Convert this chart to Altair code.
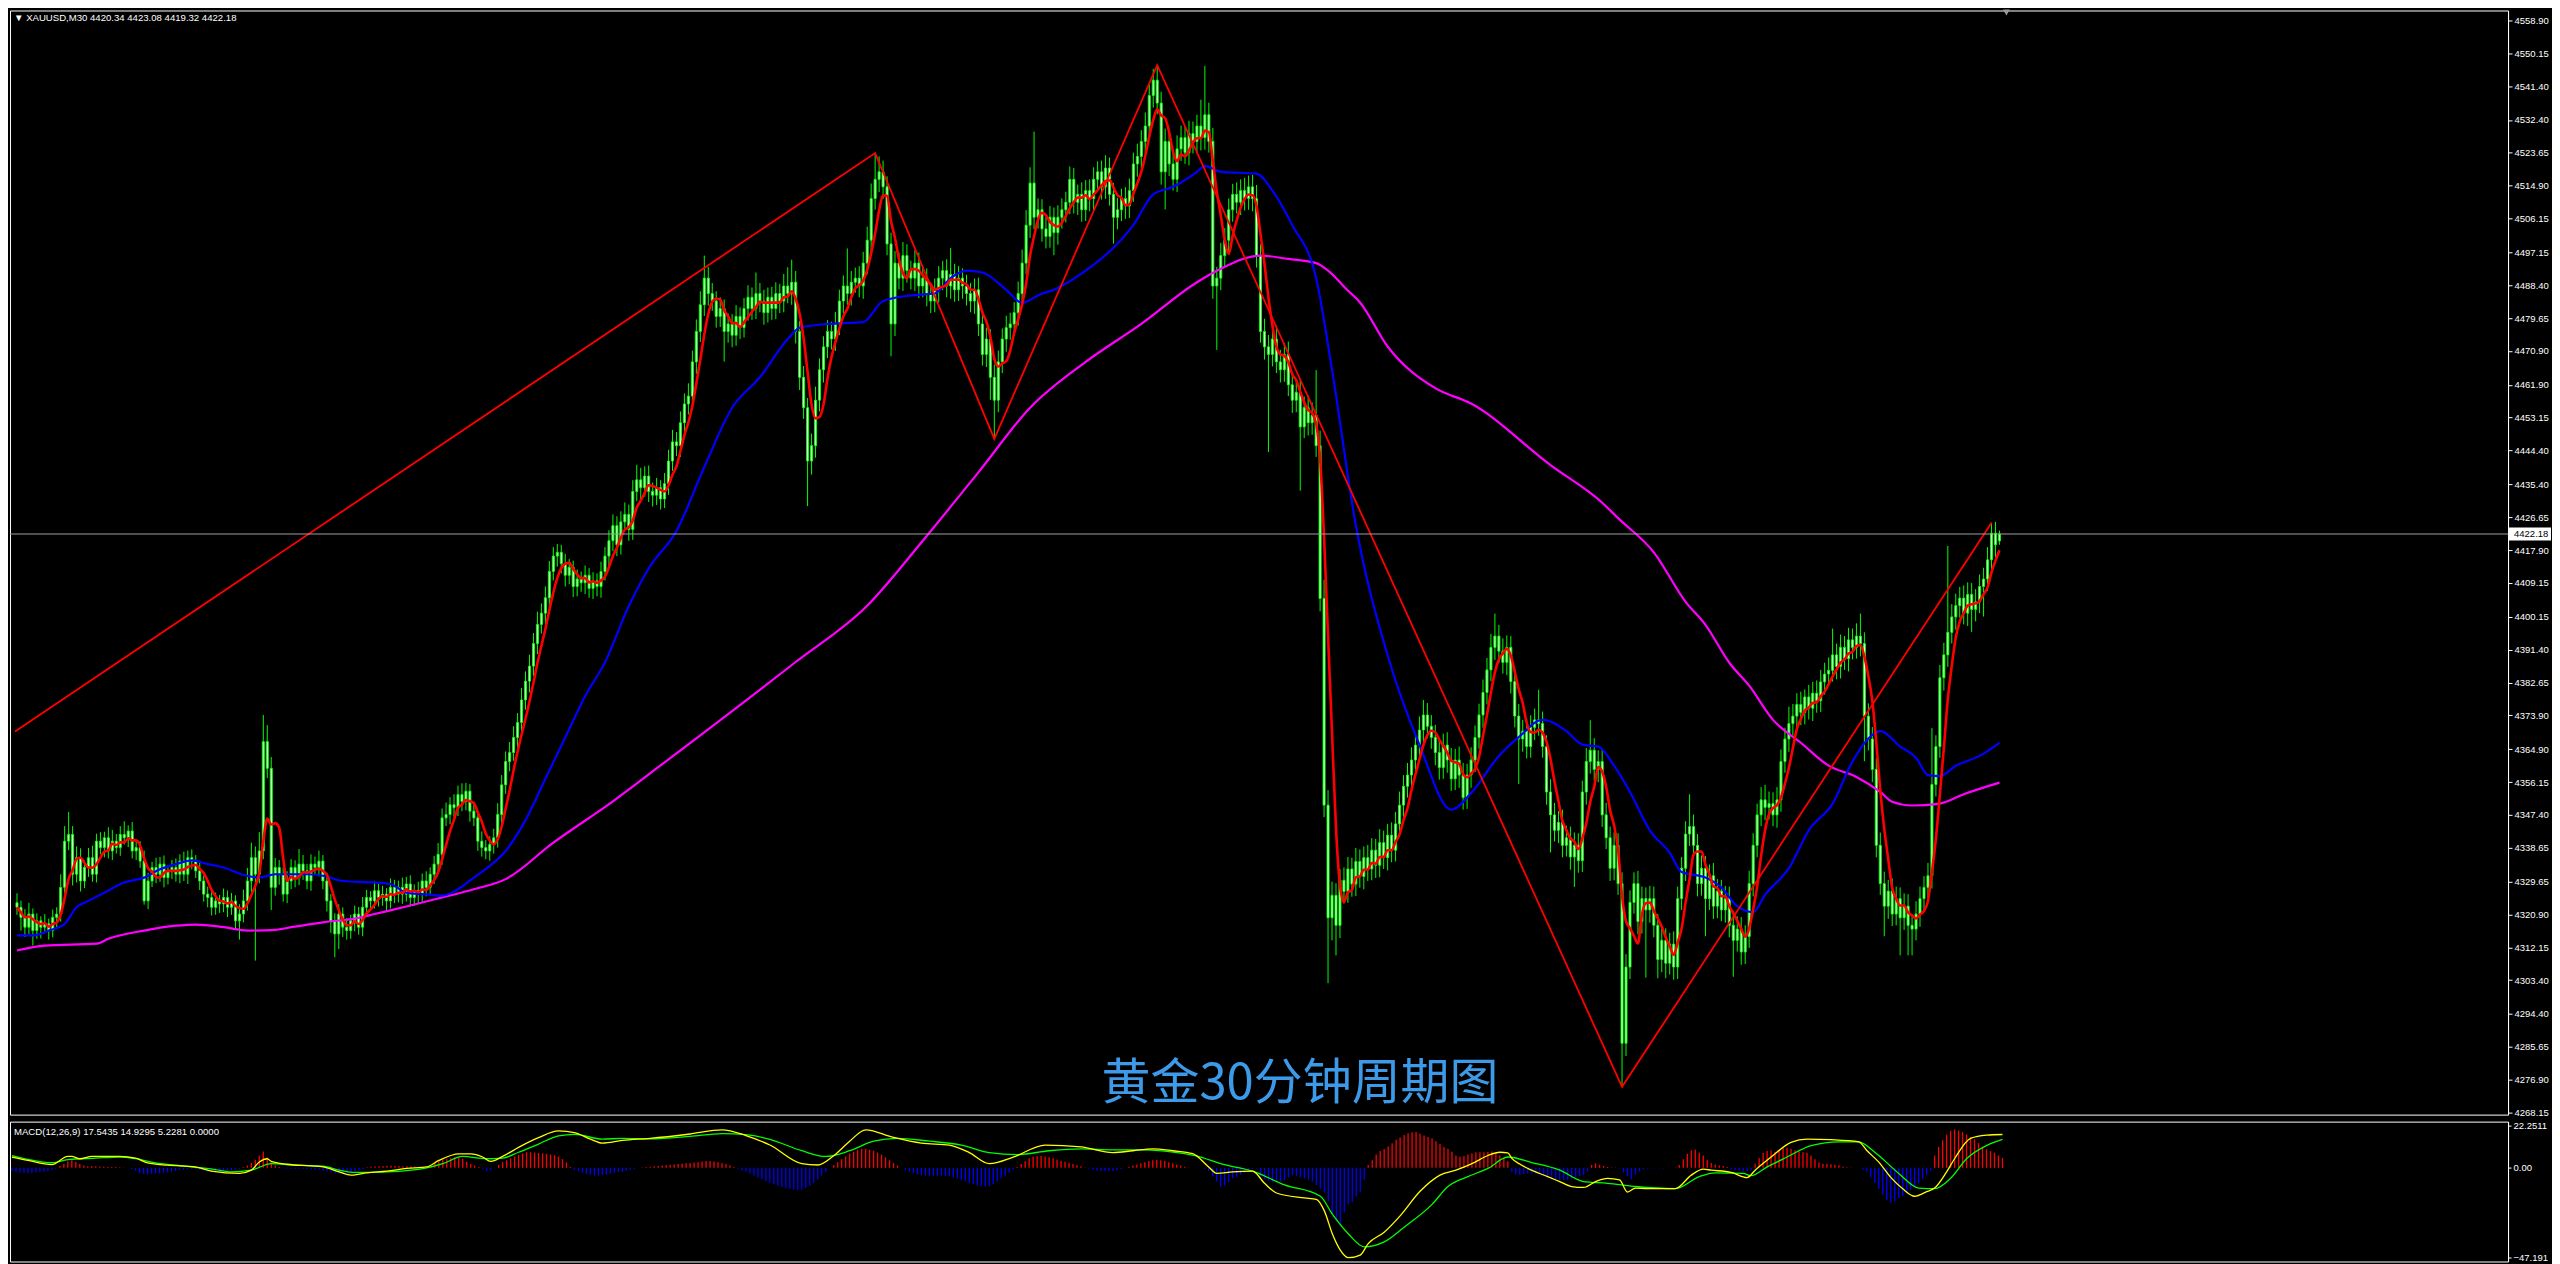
import altair as alt
import pandas as pd

# ---------------- data ----------------
closes = [
 4322.8, 4320.1, 4317.5, 4321.0, 4316.6, 4319.2, 4317.5, 4318.4, 4316.6, 4320.1,
 4321.0, 4328.1, 4340.4, 4342.2, 4331.6, 4336.0, 4329.8, 4333.4, 4336.0, 4331.6,
 4340.4, 4338.7, 4341.3, 4337.8, 4340.4, 4338.7, 4342.2, 4341.3, 4343.1, 4337.8,
 4338.7, 4335.1, 4324.5, 4329.8, 4333.4, 4331.6, 4334.3, 4330.7, 4332.5, 4333.4,
 4331.6, 4335.1, 4331.6, 4336.0, 4335.1, 4332.5, 4329.8, 4326.3, 4325.4, 4322.8,
 4324.5, 4323.7, 4325.4, 4322.8, 4324.5, 4319.2, 4321.0, 4324.5, 4329.8, 4336.0,
 4331.6, 4337.8, 4366.9, 4359.8, 4328.1, 4333.4, 4331.6, 4326.3, 4329.8, 4333.4,
 4330.7, 4334.3, 4332.5, 4329.8, 4334.3, 4333.4, 4335.1, 4329.8, 4324.5, 4319.2,
 4315.7, 4321.0, 4317.5, 4316.6, 4319.2, 4321.0, 4317.5, 4322.8, 4325.4, 4324.5,
 4327.2, 4325.4, 4326.3, 4324.5, 4328.1, 4326.3, 4328.1, 4326.3, 4329.0, 4325.4,
 4327.2, 4326.3, 4329.8, 4328.1, 4331.6, 4334.3, 4336.9, 4346.6, 4347.5, 4350.1,
 4349.3, 4352.8, 4351.0, 4353.7, 4348.4, 4346.6, 4340.4, 4338.7, 4337.8, 4339.5,
 4341.3, 4347.5, 4355.4, 4361.6, 4364.0, 4368.0, 4372.0, 4378.0, 4383.0, 4387.0,
 4393.0, 4398.1, 4401.1, 4405.2, 4412.2, 4416.3, 4417.3, 4414.3, 4411.2, 4413.3,
 4408.2, 4410.2, 4409.2, 4411.2, 4407.7, 4409.7, 4408.2, 4412.2, 4416.3, 4420.4,
 4424.4, 4419.3, 4425.4, 4427.4, 4423.4, 4433.5, 4436.6, 4434.5, 4437.6, 4433.5,
 4432.5, 4434.5, 4431.5, 4435.6, 4441.6, 4446.7, 4445.7, 4451.8, 4456.8, 4458.9,
 4468.0, 4476.1, 4483.2, 4490.3, 4486.2, 4484.2, 4480.1, 4482.2, 4476.1, 4478.1,
 4475.1, 4480.1, 4477.1, 4482.2, 4485.2, 4482.2, 4486.2, 4484.2, 4481.1, 4485.2,
 4482.2, 4486.2, 4484.2, 4488.2, 4486.2, 4489.2, 4476.1, 4463.9, 4455.8, 4441.6,
 4445.7, 4457.8, 4465.9, 4472.0, 4476.1, 4474.1, 4478.1, 4484.2, 4488.2, 4486.2,
 4489.2, 4490.3, 4488.2, 4494.3, 4500.4, 4511.5, 4516.6, 4518.6, 4514.6, 4499.4,
 4478.1, 4494.3, 4490.3, 4496.3, 4492.3, 4490.3, 4494.3, 4488.2, 4490.3, 4486.2,
 4484.2, 4487.2, 4490.3, 4492.3, 4488.2, 4491.3, 4487.2, 4490.3, 4488.2, 4486.2,
 4484.2, 4487.2, 4478.1, 4470.0, 4474.1, 4463.9, 4457.8, 4468.0, 4474.1, 4477.1,
 4478.1, 4481.1, 4486.2, 4494.3, 4504.4, 4515.6, 4506.5, 4508.5, 4503.4, 4501.4,
 4506.5, 4502.4, 4506.5, 4508.5, 4510.5, 4516.6, 4510.5, 4512.6, 4508.5, 4513.6,
 4511.5, 4516.6, 4518.6, 4514.6, 4519.6, 4512.6, 4506.5, 4508.5, 4511.5, 4509.5,
 4513.6, 4520.7, 4522.7, 4526.7, 4530.8, 4538.9, 4543.0, 4536.9, 4518.6, 4526.7,
 4520.7, 4516.6, 4524.7, 4527.7, 4523.7, 4528.8, 4526.7, 4530.8, 4527.7, 4533.8,
 4526.7, 4488.2, 4490.3, 4496.3, 4500.4, 4508.5, 4512.6, 4510.5, 4513.6, 4511.5,
 4514.6, 4511.5, 4496.3, 4476.1, 4472.0, 4470.0, 4474.1, 4468.0, 4465.9, 4470.0,
 4461.9, 4457.8, 4459.9, 4450.7, 4455.8, 4451.8, 4453.8, 4445.7, 4405.0, 4350.0,
 4320.0, 4326.0, 4318.0, 4330.0, 4327.0, 4333.0, 4329.0, 4335.0, 4331.0, 4336.0,
 4333.0, 4338.0, 4334.0, 4340.0, 4336.0, 4342.0, 4338.0, 4345.0, 4350.0, 4355.0,
 4358.0, 4362.0, 4366.0, 4370.0, 4374.0, 4371.0, 4368.0, 4364.0, 4360.0, 4366.0,
 4362.0, 4357.0, 4362.0, 4358.0, 4352.0, 4358.0, 4362.0, 4368.0, 4374.0, 4380.0,
 4386.0, 4392.0, 4395.0, 4391.0, 4388.0, 4392.0, 4382.9, 4373.7, 4367.6, 4369.7,
 4365.6, 4370.7, 4372.7, 4371.7, 4365.6, 4353.5, 4347.4, 4343.3, 4345.4, 4339.3,
 4341.3, 4336.2, 4339.3, 4335.2, 4353.5, 4361.6, 4364.6, 4359.5, 4361.6, 4347.4,
 4341.3, 4333.2, 4339.3, 4329.1, 4286.6, 4306.9, 4324.1, 4329.1, 4319.0, 4325.1,
 4322.1, 4325.1, 4318.0, 4308.9, 4314.0, 4307.9, 4313.0, 4306.9, 4325.1, 4333.2,
 4342.3, 4344.3, 4339.3, 4329.1, 4333.2, 4325.1, 4331.2, 4323.1, 4327.1, 4322.1,
 4325.1, 4318.0, 4314.0, 4317.0, 4310.9, 4315.0, 4329.1, 4339.3, 4347.4, 4351.4,
 4349.4, 4350.4, 4347.4, 4351.4, 4361.6, 4367.6, 4371.7, 4373.7, 4376.8, 4374.7,
 4378.8, 4375.8, 4379.8, 4377.8, 4382.8, 4384.9, 4385.9, 4390.0, 4386.9, 4392.0,
 4389.0, 4394.0, 4392.0, 4395.0, 4393.0, 4373.7, 4367.6, 4359.5, 4339.3, 4329.1,
 4323.1, 4327.1, 4321.0, 4325.1, 4320.0, 4323.1, 4318.0, 4317.0, 4321.0, 4325.1,
 4328.1, 4331.2, 4355.5, 4365.6, 4383.9, 4390.0, 4396.0, 4400.1, 4403.1, 4405.1,
 4401.1, 4406.1, 4402.1, 4404.1, 4408.2, 4410.2, 4415.3, 4422.4, 4419.3, 4422.18]

opens = [
 4324.0, 4322.8, 4320.1, 4317.5, 4321.0, 4316.6, 4319.2, 4317.5, 4318.4, 4316.6,
 4320.1, 4321.0, 4328.1, 4340.4, 4342.2, 4331.6, 4336.0, 4329.8, 4333.4, 4336.0,
 4331.6, 4340.4, 4338.7, 4341.3, 4337.8, 4340.4, 4338.7, 4342.2, 4341.3, 4343.1,
 4337.8, 4338.7, 4335.1, 4324.5, 4329.8, 4333.4, 4331.6, 4334.3, 4330.7, 4332.5,
 4333.4, 4331.6, 4335.1, 4331.6, 4336.0, 4335.1, 4332.5, 4329.8, 4326.3, 4325.4,
 4322.8, 4324.5, 4323.7, 4325.4, 4322.8, 4324.5, 4319.2, 4321.0, 4324.5, 4329.8,
 4336.0, 4331.6, 4337.8, 4366.9, 4359.8, 4328.1, 4333.4, 4331.6, 4326.3, 4329.8,
 4333.4, 4330.7, 4334.3, 4332.5, 4329.8, 4334.3, 4333.4, 4335.1, 4329.8, 4324.5,
 4319.2, 4315.7, 4321.0, 4317.5, 4316.6, 4319.2, 4321.0, 4317.5, 4322.8, 4325.4,
 4324.5, 4327.2, 4325.4, 4326.3, 4324.5, 4328.1, 4326.3, 4328.1, 4326.3, 4329.0,
 4325.4, 4327.2, 4326.3, 4329.8, 4328.1, 4331.6, 4334.3, 4336.9, 4346.6, 4347.5,
 4350.1, 4349.3, 4352.8, 4351.0, 4353.7, 4348.4, 4346.6, 4340.4, 4338.7, 4337.8,
 4339.5, 4341.3, 4347.5, 4355.4, 4361.6, 4364.0, 4368.0, 4372.0, 4378.0, 4383.0,
 4387.0, 4393.0, 4398.1, 4401.1, 4405.2, 4412.2, 4416.3, 4417.3, 4414.3, 4411.2,
 4413.3, 4408.2, 4410.2, 4409.2, 4411.2, 4407.7, 4409.7, 4408.2, 4412.2, 4416.3,
 4420.4, 4424.4, 4419.3, 4425.4, 4427.4, 4423.4, 4433.5, 4436.6, 4434.5, 4437.6,
 4433.5, 4432.5, 4434.5, 4431.5, 4435.6, 4441.6, 4446.7, 4445.7, 4451.8, 4456.8,
 4458.9, 4468.0, 4476.1, 4483.2, 4490.3, 4486.2, 4484.2, 4480.1, 4482.2, 4476.1,
 4478.1, 4475.1, 4480.1, 4477.1, 4482.2, 4485.2, 4482.2, 4486.2, 4484.2, 4481.1,
 4485.2, 4482.2, 4486.2, 4484.2, 4488.2, 4486.2, 4489.2, 4476.1, 4463.9, 4455.8,
 4441.6, 4445.7, 4457.8, 4465.9, 4472.0, 4476.1, 4474.1, 4478.1, 4484.2, 4488.2,
 4486.2, 4489.2, 4490.3, 4488.2, 4494.3, 4500.4, 4511.5, 4516.6, 4518.6, 4514.6,
 4499.4, 4478.1, 4494.3, 4490.3, 4496.3, 4492.3, 4490.3, 4494.3, 4488.2, 4490.3,
 4486.2, 4484.2, 4487.2, 4490.3, 4492.3, 4488.2, 4491.3, 4487.2, 4490.3, 4488.2,
 4486.2, 4484.2, 4487.2, 4478.1, 4470.0, 4474.1, 4463.9, 4457.8, 4468.0, 4474.1,
 4477.1, 4478.1, 4481.1, 4486.2, 4494.3, 4504.4, 4515.6, 4506.5, 4508.5, 4503.4,
 4501.4, 4506.5, 4502.4, 4506.5, 4508.5, 4510.5, 4516.6, 4510.5, 4512.6, 4508.5,
 4513.6, 4511.5, 4516.6, 4518.6, 4514.6, 4519.6, 4512.6, 4506.5, 4508.5, 4511.5,
 4509.5, 4513.6, 4520.7, 4522.7, 4526.7, 4530.8, 4538.9, 4543.0, 4536.9, 4518.6,
 4526.7, 4520.7, 4516.6, 4524.7, 4527.7, 4523.7, 4528.8, 4526.7, 4530.8, 4527.7,
 4533.8, 4526.7, 4488.2, 4490.3, 4496.3, 4500.4, 4508.5, 4512.6, 4510.5, 4513.6,
 4511.5, 4514.6, 4511.5, 4496.3, 4476.1, 4472.0, 4470.0, 4474.1, 4468.0, 4465.9,
 4470.0, 4461.9, 4457.8, 4459.9, 4450.7, 4455.8, 4451.8, 4453.8, 4445.7, 4405.0,
 4350.0, 4320.0, 4326.0, 4318.0, 4330.0, 4327.0, 4333.0, 4329.0, 4335.0, 4331.0,
 4336.0, 4333.0, 4338.0, 4334.0, 4340.0, 4336.0, 4342.0, 4338.0, 4345.0, 4350.0,
 4355.0, 4358.0, 4362.0, 4366.0, 4370.0, 4374.0, 4371.0, 4368.0, 4364.0, 4360.0,
 4366.0, 4362.0, 4357.0, 4362.0, 4358.0, 4352.0, 4358.0, 4362.0, 4368.0, 4374.0,
 4380.0, 4386.0, 4392.0, 4395.0, 4391.0, 4388.0, 4392.0, 4382.9, 4373.7, 4367.6,
 4369.7, 4365.6, 4370.7, 4372.7, 4371.7, 4365.6, 4353.5, 4347.4, 4343.3, 4345.4,
 4339.3, 4341.3, 4336.2, 4339.3, 4335.2, 4353.5, 4361.6, 4364.6, 4359.5, 4361.6,
 4347.4, 4341.3, 4333.2, 4339.3, 4329.1, 4286.6, 4306.9, 4324.1, 4329.1, 4319.0,
 4325.1, 4322.1, 4325.1, 4318.0, 4308.9, 4314.0, 4307.9, 4313.0, 4306.9, 4325.1,
 4333.2, 4342.3, 4344.3, 4339.3, 4329.1, 4333.2, 4325.1, 4331.2, 4323.1, 4327.1,
 4322.1, 4325.1, 4318.0, 4314.0, 4317.0, 4310.9, 4315.0, 4329.1, 4339.3, 4347.4,
 4351.4, 4349.4, 4350.4, 4347.4, 4351.4, 4361.6, 4367.6, 4371.7, 4373.7, 4376.8,
 4374.7, 4378.8, 4375.8, 4379.8, 4377.8, 4382.8, 4384.9, 4385.9, 4390.0, 4386.9,
 4392.0, 4389.0, 4394.0, 4392.0, 4395.0, 4393.0, 4373.7, 4367.6, 4359.5, 4339.3,
 4329.1, 4323.1, 4327.1, 4321.0, 4325.1, 4320.0, 4323.1, 4318.0, 4317.0, 4321.0,
 4325.1, 4328.1, 4331.2, 4355.5, 4365.6, 4383.9, 4390.0, 4396.0, 4400.1, 4403.1,
 4405.1, 4401.1, 4406.1, 4402.1, 4404.1, 4408.2, 4410.2, 4415.3, 4422.4, 4420.34]

# upper / lower shadow lengths beyond the body
wick_up = [
 2.5,1.8,2.2,3.0,1.5,2.0,1.2,2.6,1.4,2.1, 1.8,3.5,4.0,6.0,2.2,3.0,2.5,1.8,2.6,3.2,
 2.0,2.4,1.6,2.8,3.0,1.9,2.2,3.5,1.5,2.4, 2.0,1.7,2.8,2.2,1.5,2.6,1.9,2.3,1.6,2.0,
 2.4,1.8,2.5,1.9,2.2,1.6,2.7,1.5,2.0,1.8, 2.2,1.6,2.4,1.9,2.1,1.5,2.6,3.0,3.5,4.0,
 3.0,5.0,7.1,4.4,3.0,2.5,2.0,1.8,2.6,2.2, 1.9,4.0,2.4,1.8,2.6,2.0,2.8,1.6,2.2,1.8,
 2.0,2.6,1.8,2.4,1.6,2.2,1.9,2.7,2.0,1.7, 2.5,1.8,2.2,1.6,2.4,2.0,1.8,2.6,1.9,2.3,
 1.7,2.4,2.0,2.6,1.8,2.2,3.0,2.5,3.2,2.0, 2.8,2.4,3.0,2.2,1.9,2.5,1.8,2.6,2.0,2.2,
 2.4,3.0,2.6,2.7,2.8,3.0,2.5,3.2,2.6,3.0, 2.8,3.4,2.6,3.0,2.8,2.4,2.2,2.0,2.6,2.2,
 1.8,2.5,2.0,2.6,1.9,2.3,2.0,2.6,2.4,2.8, 3.0,2.5,2.8,3.2,2.6,3.0,4.0,3.2,2.6,2.8,
 2.4,2.6,2.0,2.8,3.0,3.2,2.6,3.0,2.8,3.4, 3.0,3.2,3.6,6.0,3.0,2.8,2.6,3.0,2.4,2.8,
 2.6,3.0,2.4,2.8,3.2,2.6,5.6,2.8,3.0,2.6, 2.8,3.0,2.6,3.2,5.0,6.0,3.0,2.8,3.0,2.6,
 3.2,3.6,3.0,2.8,3.0,2.6,3.2,3.0,2.8,10.0, 3.0,2.8,3.2,3.0,3.6,4.0,7.0,4.1,3.0,2.8,
 3.0,3.2,2.8,3.6,3.0,2.6,3.4,2.8,3.0,2.6, 2.8,3.0,3.2,2.6,3.0,7.0,2.8,3.2,2.6,3.0,
 2.8,3.0,3.2,2.8,3.0,2.6,3.4,3.0,2.8,3.2, 3.0,2.8,3.2,3.6,4.0,4.2,13.7,3.0,2.8,3.2,
 3.0,2.6,3.2,3.0,2.8,3.4,3.0,2.6,3.2,2.8, 3.0,3.2,2.8,3.0,3.4,2.8,3.0,3.2,2.6,3.0,
 3.2,3.0,3.4,3.0,3.6,3.2,3.0,4.0,3.0,3.4, 3.2,3.0,3.6,3.2,3.0,3.4,3.2,3.0,7.0,13.0,
 3.2,3.6,3.0,3.4,3.2,3.0,2.8,3.2,3.0,3.4, 3.0,3.2,3.6,3.0,3.4,3.2,3.0,3.6,3.2,3.0,
 3.4,3.0,3.2,3.6,3.0,3.2,3.4,12.0,4.0,5.0, 4.0,3.6,3.2,3.0,3.4,3.2,3.0,3.6,3.2,3.0,
 3.4,3.2,3.0,3.6,3.2,3.0,3.4,3.2,3.6,3.0, 3.2,3.4,3.0,3.6,4.0,3.2,3.0,3.4,3.2,3.0,
 3.4,3.2,3.0,3.6,3.2,3.0,3.4,3.2,3.0,3.4, 3.2,3.6,6.0,3.0,3.4,3.2,3.0,3.4,3.2,3.0,
 3.4,3.2,3.0,8.0,3.2,3.0,3.4,3.2,3.0,3.4, 3.2,3.0,3.4,3.2,3.0,3.6,8.0,3.2,3.0,3.4,
 3.2,3.0,3.4,3.2,3.0,3.4,3.2,3.0,3.4,3.2, 3.0,3.4,3.2,3.0,3.4,3.2,3.0,3.4,3.2,3.0,
 3.4,8.6,3.2,3.0,3.4,3.2,3.0,3.4,3.2,3.0, 3.4,3.2,3.0,3.4,3.2,3.0,3.4,3.2,3.0,3.4,
 4.0,3.2,3.0,3.4,3.2,3.0,4.5,3.2,3.0,3.4, 2.0,3.2,3.0,3.4,3.2,3.0,3.4,7.0,3.0,3.4,
 3.0,3.2,3.0,3.4,6.0,3.0,3.4,3.2,3.0,3.4, 3.2,3.0,3.4,3.2,3.0,3.4,3.2,3.0,3.4,3.2,
 3.0,3.4,15.0,3.0,3.4,3.2,23.0,3.4,3.2,3.0, 3.4,3.2,3.0,3.4,3.2,3.0,3.4,2.8,3.0,0.9]

wick_dn = [
 2.0,3.5,2.6,1.8,4.0,2.2,3.0,1.6,2.4,1.8, 2.6,2.0,1.5,2.4,3.0,2.2,2.8,1.9,2.5,2.0,
 2.2,1.8,2.6,2.0,2.4,1.6,2.2,1.8,2.5,2.0, 2.4,1.8,1.0,2.2,1.6,2.4,2.0,2.6,1.8,2.2,
 2.0,2.4,1.8,2.6,2.2,1.9,2.4,2.0,2.6,2.2, 2.0,2.4,2.2,2.6,2.0,2.4,5.0,2.2,2.6,3.0,
 23.0,2.4,2.2,2.6,6.0,2.2,2.8,2.0,2.4,2.2, 2.6,2.0,2.4,2.2,2.6,2.0,2.4,2.2,2.8,3.2,
 6.2,4.0,2.6,2.4,2.2,2.8,2.0,2.4,2.2,2.6, 2.0,2.4,2.2,2.6,2.0,2.4,2.2,2.6,2.0,2.4,
 2.2,2.6,2.0,2.4,2.2,2.6,2.4,2.8,2.2,2.6, 2.4,2.2,2.6,2.4,2.8,2.2,2.6,2.4,2.2,2.6,
 2.4,2.6,2.8,2.4,2.6,2.2,2.8,2.4,2.6,3.0, 2.6,2.8,2.4,3.0,2.6,2.4,2.8,2.6,3.0,2.4,
 2.8,2.6,2.4,3.0,2.5,2.8,2.6,3.0,2.4,2.6, 2.8,3.0,2.6,2.4,3.0,2.8,2.6,3.0,2.4,2.8,
 3.0,2.6,2.8,2.4,3.0,2.6,2.8,3.0,2.6,2.8, 3.0,3.2,2.8,3.0,3.2,2.6,3.0,2.8,8.0,3.0,
 3.2,2.8,3.0,2.6,3.2,3.0,2.8,3.0,3.2,2.6, 3.0,2.8,3.2,3.0,2.6,3.0,3.2,3.4,3.0,12.0,
 3.6,3.2,3.0,3.4,3.0,2.8,3.2,3.0,3.4,3.0, 3.2,2.8,3.0,3.4,3.0,3.2,3.0,3.4,3.2,3.0,
 8.6,3.2,3.0,3.4,3.2,3.0,3.4,3.2,3.0,3.4, 3.2,3.0,3.4,3.2,3.0,3.4,3.2,3.0,3.4,3.2,
 3.0,3.4,3.2,3.0,3.4,6.0,10.3,3.2,3.0,3.4, 3.2,3.0,3.4,3.2,3.0,3.4,3.2,3.0,3.4,3.2,
 3.0,6.0,3.2,3.0,3.4,3.2,3.0,3.4,3.2,3.0, 3.4,3.2,3.0,3.4,3.2,3.0,7.0,3.2,3.0,3.4,
 3.2,3.0,3.4,3.2,3.0,3.4,3.2,3.0,3.4,10.0, 3.2,3.0,3.4,3.2,3.0,3.4,3.2,3.0,3.4,3.2,
 3.0,3.4,17.0,3.2,3.0,3.4,3.2,3.0,3.4,3.2, 3.0,3.4,3.2,3.0,3.4,26.0,3.2,3.0,3.4,3.2,
 3.0,3.4,3.2,17.0,3.0,3.4,3.2,3.0,3.4,3.2, 17.4,6.0,8.0,3.4,3.2,3.0,3.4,3.2,3.0,3.4,
 3.2,3.0,3.4,3.2,3.0,3.4,3.2,3.0,3.4,3.2, 3.0,3.4,3.2,3.0,3.4,3.2,3.0,3.4,3.2,3.0,
 3.4,3.2,3.0,3.4,3.2,3.0,3.4,3.2,3.0,3.4, 3.2,3.0,3.4,3.2,3.0,3.4,3.2,3.0,12.0,3.4,
 3.2,3.0,3.4,3.2,3.0,3.4,10.0,3.0,3.4,3.2, 3.0,3.4,8.0,3.2,3.0,3.4,3.2,3.0,3.4,3.2,
 3.0,3.4,3.2,3.0,11.6,3.4,3.2,3.0,3.4,3.2, 18.0,3.4,3.2,5.0,3.4,4.0,3.0,3.4,3.2,3.0,
 3.4,3.2,3.0,3.4,3.2,10.0,3.0,3.4,3.2,3.0, 3.4,3.2,9.7,3.0,3.4,3.2,3.0,3.4,3.2,3.0,
 3.4,3.2,3.0,3.4,3.2,3.0,3.4,3.2,3.0,3.4, 3.2,3.0,3.4,3.2,3.0,3.4,3.2,3.0,3.4,3.2,
 3.0,3.4,3.2,3.0,3.4,12.0,3.0,3.4,3.2,3.0, 8.0,3.4,3.2,3.0,10.0,3.2,8.0,7.0,3.0,3.4,
 3.2,3.0,3.4,3.2,3.0,3.4,3.2,3.0,3.4,3.2, 3.0,3.4,6.0,3.2,3.0,8.0,3.2,3.0,3.4,1.02]

# blue moving average (bar index, price)
blue_i = [0,4,8,12,15,18,22,27,32,36,40,44,48,52,57,61,65,73,77,82,90,94,98,102,107,111,115,119,123,128,
          133,138,143,148,154,159,166,173,180,187,194,197,204,213,218,225,231,235,239,243,249,253,257,262,269,
          276,281,286,291,297,299,303,312,316,321,327,331,337,345,353,361,366,373,378,384,390,394,398,402,406,
          411,416,419,425,429,433,437,440,446,451,457,462,467,469,474,478,481,484,488,494,499]
blue_v = [4315.3,4315.3,4316.6,4318.4,4322.8,4324.5,4326.7,4329.4,4330.7,4332.9,4334.3,4335.3,4334.3,4333.4,
          4331.4,4330.7,4331.6,4331.6,4331.2,4329.8,4329.4,4329.0,4326.7,4326.3,4325.9,4327.6,4330.7,4333.8,
          4337.8,4346.0,4357.0,4368.0,4379.0,4388.0,4403.0,4413.0,4423.0,4440.0,4455.8,4463.9,4474.1,4477.1,
          4478.1,4478.6,4484.2,4485.7,4486.2,4490.3,4492.3,4491.8,4487.2,4483.7,4485.7,4487.7,4492.3,4498.4,
          4504.4,4512.6,4514.6,4518.6,4520.2,4518.6,4518.1,4513.6,4504.4,4490.3,4465.9,4424.5,4389.9,4366.1,
          4348.8,4353.2,4363.1,4368.1,4372.7,4369.7,4366.1,4365.6,4360.5,4353.5,4343.3,4337.3,4332.2,4330.7,
          4328.1,4323.1,4321.5,4326.1,4333.2,4343.3,4350.4,4361.6,4368.7,4369.7,4365.6,4362.6,4358.0,4357.7,
          4360.5,4363.1,4366.6]

# magenta moving average
mag_i = [0,7,20,23,32,40,45,52,58,65,69,77,86,90,98,107,115,123,135,150,165,180,196,214,228,242,255,269,283,297,
         303,313,320,327,330,335,338,345,357,366,386,399,403,412,420,425,431,436,442,449,456,463,469,472,477,484,490,499]
mag_v = [4311.3,4312.6,4313.1,4314.4,4316.6,4317.9,4318.2,4317.5,4316.6,4316.8,4317.5,4318.8,4320.0,4321.0,
         4323.0,4325.4,4327.6,4330.3,4340.0,4351.0,4363.0,4375.0,4388.1,4403.1,4420.4,4438.6,4455.8,4468.0,
         4478.1,4489.2,4492.8,4496.3,4495.4,4494.3,4492.3,4487.0,4483.9,4472.1,4461.0,4456.9,4440.5,4430.5,
         4426.4,4417.3,4404.1,4398.0,4387.9,4381.8,4372.7,4366.6,4360.5,4357.5,4353.5,4350.9,4349.9,4350.4,
         4352.9,4356.0]

# zigzag vertices
zz_i = [-0.5, 216, 246, 287, 404, 497]
zz_v = [4369.6, 4523.6, 4447.5, 4547.0, 4275.0, 4425.2]

# MACD histogram (one value per bar)
hist = [
 -1.5,-2.0,-2.4,-2.6,-2.8,-2.6,-2.4,-2.2,-2.0,-1.6, -1.0,-0.4,1.0,2.2,3.5,4.0,3.2,2.0,1.2,0.8,
 1.0,0.9,0.7,0.6,0.5,0.5,0.4,0.3,0.2,0.0, -0.5,-1.5,-2.8,-3.2,-3.4,-3.2,-3.0,-2.8,-2.6,-2.4,
 -2.0,-1.6,-1.2,-0.9,-0.6,-0.4,-0.5,-1.0,-1.5,-2.0, -2.2,-2.3,-2.0,-1.8,-1.6,-1.4,-1.0,-0.5,0.5,1.2,
 2.5,4.2,6.5,8.6,5.5,3.0,1.4,0.5,-0.2,-0.3, -0.4,-0.5,-0.4,-0.5,-0.6,-0.7,-0.8,-1.0,-1.4,-1.8,
 -2.2,-2.8,-3.0,-2.9,-2.6,-2.2,-1.8,-1.2,-0.6,0.3, 0.6,0.8,0.9,1.0,1.1,1.2,1.1,1.0,0.9,0.8,
 0.8,0.7,0.6,0.5,0.6,1.2,2.5,3.5,4.2,4.6, 5.2,5.6,5.6,4.8,3.2,2.0,1.2,0.4,-0.5,-1.8,
 -1.2,-0.2,1.5,3.0,4.0,5.0,6.0,6.8,7.6,8.2, 8.2,8.0,7.8,7.6,7.4,7.0,6.6,6.0,4.6,2.8,
 0.5,-1.0,-1.8,-2.5,-3.2,-3.6,-3.9,-4.0,-3.8,-3.5, -3.0,-2.5,-2.0,-2.0,-1.5,-1.0,-0.5,0.0,0.2,0.4,
 0.6,0.8,1.0,1.2,1.4,1.6,1.8,2.0,2.2,2.4, 2.6,2.8,3.0,3.4,3.6,3.6,3.4,3.0,2.6,2.0,
 1.2,0.4,-0.4,-1.2,-2.0,-3.0,-4.0,-5.0,-6.0,-7.0, -7.8,-8.6,-9.4,-10.0,-10.6,-11.0,-11.4,-11.6,-11.4,-10.6,
 -9.4,-8.0,-6.0,-4.0,-2.0,0.0,1.5,3.0,4.5,6.0, 7.5,8.5,9.5,10.0,10.0,9.5,9.0,8.0,7.0,5.5,
 4.0,2.5,1.2,0.0,-1.0,-2.0,-2.8,-3.4,-3.8,-4.0, -4.0,-4.0,-4.0,-4.0,-4.2,-4.5,-5.0,-5.6,-6.2,-7.0,
 -7.8,-8.6,-9.2,-9.6,-9.8,-9.6,-8.5,-7.0,-5.5,-4.0, -2.5,-1.0,0.5,2.0,3.5,5.0,5.8,6.2,6.2,6.0,
 5.6,5.0,4.4,3.8,3.2,2.6,2.0,1.4,0.8,0.2, -0.4,-1.0,-1.4,-1.6,-1.8,-1.8,-1.6,-1.2,-0.6,0.0,
 0.6,1.2,1.8,2.4,3.0,3.6,4.0,4.2,4.0,3.6, 3.0,2.4,1.8,1.2,0.6,0.2,0.0,-0.2,0.0,-0.5,
 -1.5,-4.5,-7.2,-9.8,-9.2,-7.5,-5.5,-4.6,-3.5,-2.5, -1.5,-0.6,-0.3,-4.5,-6.0,-6.8,-7.2,-7.4,-7.2,-6.5,
 -5.0,-3.8,-4.2,-5.0,-5.5,-6.2,-7.2,-9.0,-11.0,-13.0, -17.5,-24.3,-28.0,-29.5,-23.5,-19.2,-17.8,-15.0,-12.5,-6.3,
 1.5,4.0,7.0,8.8,9.9,11.2,13.0,14.8,15.9,17.3, 18.2,18.7,18.9,17.9,17.0,16.2,15.5,14.0,12.5,11.0,
 10.0,8.5,6.5,5.8,6.3,7.0,7.6,8.2,8.2,8.2, 8.4,8.6,8.0,6.5,5.2,3.5,-2.1,-3.4,-3.8,-3.2,
 -2.9,-2.8,-2.9,-3.4,-4.0,-4.6,-5.4,-6.2,-6.4,-6.4, -6.3,-5.8,-5.0,-4.4,-3.8,-2.0,1.5,2.4,1.6,1.0,
 0.5,0.2,0.1,-0.2,-2.5,-4.4,-6.0,-3.5,-1.8,-0.7, -0.4,-0.3,-0.2,-0.2,-0.3,-0.2,-0.1,0.1,1.5,4.5,
 7.4,9.1,9.5,8.0,6.5,4.2,2.6,1.8,1.3,1.0, 0.5,-0.8,-1.2,-1.5,-1.8,-1.6,-1.0,2.2,5.2,7.8,
 8.8,9.1,8.4,9.4,10.4,10.6,9.9,9.3,8.6,8.2, 8.0,6.5,4.5,2.8,2.2,2.2,1.9,1.6,1.4,0.6,
 0.3,0.2,0.1,0.0,-0.8,-2.1,-5.0,-8.0,-11.0,-14.1, -17.0,-18.3,-17.5,-15.8,-14.9,-13.5,-11.5,-10.0,-8.1,-5.8,
 -3.5,-1.5,6.5,11.0,14.5,17.5,19.5,20.2,19.6,18.8, 17.5,16.2,15.0,13.0,11.2,9.8,8.8,8.0,6.5,5.23]

# MACD main (yellow) and signal (green) lines
yel_i = [0,4,10,14,15,17,20,27,31,34,39,46,50,57,60,62,64,65,69,75,78,82,85,89,94,99,104,107,112,115,
         118,120,123,127,132,137,141,145,148,153,160,170,178,184,190,198,202,206,210,214,221,228,235,240,245,
         251,259,268,276,281,286,291,296,300,302,306,311,314,317,324,327,329,331,333,335,338,340,344,348,353,
         358,362,366,370,373,375,376,378,380,385,388,391,394,397,400,403,405,407,410,417,421,424,426,431,435,
         437,441,446,450,456,463,465,468,471,474,477,480,482,485,487,491,495,499]
yel_v = [5.7,3.9,1.7,6.0,6.0,4.8,6.0,6.0,5.1,2.6,1.4,0.5,-1.7,-2.9,-1.2,3.1,4.8,3.4,1.9,1.0,
         0.5,-2.1,-3.8,-2.6,-1.7,-0.3,0.5,3.9,7.4,7.4,5.7,3.4,6.0,10.8,15.9,19.4,18.5,15.1,13.0,14.4,
         15.5,17.8,20.0,17.0,12.0,2.2,1.5,6.4,14.0,20.0,16.0,13.0,12.0,8.0,2.2,5.6,12.0,11.0,8.0,9.0,
         10.0,9.0,7.5,0.5,-2.9,-2.1,-1.7,-8.1,-13.2,-15.8,-16.6,-22.6,-34.6,-43.2,-47.2,-45.8,-39.8,-33.8,-25.2,-12.3,
         -3.8,-1.2,2.2,6.5,8.2,7.9,5.0,2.0,-0.3,-4.6,-7.2,-9.8,-10.3,-7.2,-5.5,-6.3,-12.7,-10.6,-10.9,-10.9,
         -3.8,-0.7,-1.2,-2.4,-5.1,-1.2,5.7,13.4,15.1,14.8,13.7,9.1,3.0,-5.0,-11.0,-14.9,-12.5,-10.6,-2.1,4.8,
         15.5,17.2,17.54]
grn_i = [0,4,10,14,21,27,31,36,41,46,51,55,60,65,71,78,82,86,94,104,108,113,119,123,127,132,137,141,148,153,
         160,170,178,184,190,198,204,210,216,222,230,238,245,252,260,268,276,284,292,298,303,311,319,328,331,
         335,339,344,349,356,360,365,370,375,381,388,394,400,407,417,423,427,434,436,440,445,451,458,463,467,
         473,478,482,486,490,495,499]
grn_v = [6.5,4.5,2.7,4.3,5.1,5.7,4.8,2.6,1.4,0.3,-0.9,-2.1,-1.2,2.2,1.4,0.9,-1.2,-2.4,-2.1,0.0,
         2.2,6.0,4.8,5.1,8.2,12.5,16.8,17.6,15.1,15.5,15.2,16.5,18.0,17.5,15.0,9.0,6.0,9.0,14.0,15.5,
         14.0,12.0,8.0,7.0,9.0,10.0,9.5,9.5,8.0,5.7,2.2,-1.7,-8.9,-14.9,-24.3,-34.6,-41.5,-38.9,-31.2,-19.2,
         -9.8,-4.6,-0.3,5.7,2.8,-1.2,-7.2,-8.1,-9.8,-10.9,-4.6,-2.6,-2.9,-4.1,0.5,5.7,11.7,13.7,13.7,8.2,
         -2.9,-10.6,-10.9,-5.5,4.8,11.7,14.93]

price_ticks = [4558.90, 4550.15, 4541.40, 4532.40, 4523.65, 4514.90, 4506.15, 4497.15, 4488.40, 4479.65,
               4470.90, 4461.90, 4453.15, 4444.40, 4435.40, 4426.65, 4417.90, 4409.15, 4400.15, 4391.40,
               4382.65, 4373.90, 4364.90, 4356.15, 4347.40, 4338.65, 4329.65, 4320.90, 4312.15, 4303.40,
               4294.40, 4285.65, 4276.90, 4268.15]
macd_ticks = [22.2511, 0.0, -47.191]
last_price = 4422.18
header_text = "\u25BC XAUUSD,M30  4420.34 4423.08 4419.32 4422.18"
macd_text = "MACD(12,26,9) 17.5435 14.9295 5.2281 0.0000"
title_text = "黄金30分钟周期图"

# ---------------- layout ----------------
W = 2500
H_MAIN = 1105
H_MACD = 140
X_DOM = [-0.5, 625.75]
Y_DOM = [4267.6, 4561.55]
M_DOM = [-49.2, 24.3]
FONT = "Liberation Sans"

xs = alt.Scale(domain=X_DOM, nice=False, zero=False)
ys = alt.Scale(domain=Y_DOM, nice=False, zero=False)
ms = alt.Scale(domain=M_DOM, nice=False, zero=False)
X = alt.X("i:Q", scale=xs, axis=None)

price_axis = alt.Axis(orient="right", values=price_ticks, format=".2f", title=None,
                      labelOverlap=False, labelFlush=False, grid=False)
macd_axis = alt.Axis(orient="right", values=macd_ticks, title=None, grid=False,
                     labelOverlap=False, labelFlush=False, tickSize=3,
                     labelExpr="datum.value > 1 ? format(datum.value, '.4f') : (datum.value < -1 ? format(datum.value, '.3f') : format(datum.value, '.2f'))")


def PY(field):
    return alt.Y(field, scale=ys, axis=price_axis, title=None)


def MY(field):
    return alt.Y(field, scale=ms, axis=macd_axis, title=None)


bars = pd.DataFrame({"i": list(range(len(closes))), "o": opens, "c": closes,
                     "wu": wick_up, "wd": wick_dn})

cbase = alt.Chart(bars).transform_calculate(
    top="max(datum.o, datum.c)",
    bot="min(datum.o, datum.c)",
    hi="max(datum.o, datum.c) + datum.wu",
    lo="min(datum.o, datum.c) - datum.wd",
)

wicks = cbase.mark_rule(color="#00ff00", strokeWidth=1).encode(
    x=X, y=PY("lo:Q"), y2="hi:Q")

bodies = cbase.mark_bar(size=2, stroke="#00ff00", strokeWidth=1).encode(
    x=X, y=PY("bot:Q"), y2="top:Q",
    fill=alt.condition("datum.c >= datum.o", alt.value("#d8ffd8"), alt.value("#ffffff")))

fast_ma = alt.Chart(bars).transform_window(
    ma="mean(c)", frame=[-4, 0], sort=[alt.SortField("i")]
).mark_line(color="#ff0000", strokeWidth=2.6, interpolate="monotone").encode(
    x=X, y=PY("ma:Q"))

blue_df = pd.DataFrame({"i": blue_i, "v": blue_v})
blue_line = alt.Chart(blue_df).mark_line(color="#0000ff", strokeWidth=2.2, interpolate="monotone").encode(
    x=X, y=PY("v:Q"))

mag_df = pd.DataFrame({"i": mag_i, "v": mag_v})
mag_line = alt.Chart(mag_df).mark_line(color="#ff00ff", strokeWidth=2.2, interpolate="monotone").encode(
    x=X, y=PY("v:Q"))

zz_df = pd.DataFrame({"i": zz_i, "v": zz_v})
zz_line = alt.Chart(zz_df).mark_line(color="#ff0000", strokeWidth=1.8).encode(
    x=X, y=PY("v:Q"))

lp_df = pd.DataFrame({"p": [last_price], "lbl": [f"{last_price:.2f}"]})
price_rule = alt.Chart(lp_df).mark_rule(color="#a0a0a0", strokeWidth=1).encode(y=PY("p:Q"))
price_box = alt.Chart(lp_df).transform_calculate(
    p0="datum.p - 1.7", p1="datum.p + 1.7"
).mark_rect(color="#ffffff").encode(
    x=alt.value(W + 1), x2=alt.value(W + 43), y=PY("p0:Q"), y2="p1:Q")
price_txt = alt.Chart(lp_df).mark_text(align="left", baseline="middle", color="#000000",
                                       font=FONT, fontSize=9.5).encode(
    x=alt.value(W + 6), y=PY("p:Q"), text="lbl:N")

hdr = alt.Chart(pd.DataFrame({"t": [header_text]})).mark_text(
    align="left", baseline="middle", color="#ffffff", font=FONT, fontSize=9.6).encode(
    x=alt.value(4), y=alt.value(8), text="t:N")

shift_mark = alt.Chart(pd.DataFrame({"t": [""]})).mark_point(
    shape="triangle-down", filled=True, color="#9a9a9a", size=45, opacity=1).encode(
    x=alt.value(1998), y=alt.value(2))

title = alt.Chart(pd.DataFrame({"t": [title_text]})).mark_text(
    align="center", baseline="middle", color="#3d9ae8", font="Noto Sans CJK SC", fontSize=49).encode(
    x=alt.value(1291), y=alt.value(1074), text="t:N")

main = alt.layer(wicks, bodies, mag_line, blue_line, fast_ma, zz_line, price_rule,
                 price_box, price_txt, hdr, shift_mark, title).properties(width=W, height=H_MAIN)

# ---------------- MACD panel ----------------
h_df = pd.DataFrame({"i": list(range(len(hist))), "h": hist})
hbars = alt.Chart(h_df).transform_calculate(zero="0").mark_rule(strokeWidth=1.3).encode(
    x=X, y=MY("zero:Q"), y2="h:Q",
    color=alt.condition("datum.h >= 0", alt.value("#ff0000"), alt.value("#0000ff")))

yel_df = pd.DataFrame({"i": yel_i, "v": yel_v})
yel_line = alt.Chart(yel_df).mark_line(color="#ffff00", strokeWidth=1.3, interpolate="monotone").encode(
    x=X, y=MY("v:Q"))
grn_df = pd.DataFrame({"i": grn_i, "v": grn_v})
grn_line = alt.Chart(grn_df).mark_line(color="#00ff00", strokeWidth=1.3, interpolate="monotone").encode(
    x=X, y=MY("v:Q"))

mhdr = alt.Chart(pd.DataFrame({"t": [macd_text]})).mark_text(
    align="left", baseline="middle", color="#ffffff", font=FONT, fontSize=9.6).encode(
    x=alt.value(4), y=alt.value(10), text="t:N")

macd = alt.layer(hbars, grn_line, yel_line, mhdr).properties(width=W, height=H_MACD)

chart = alt.vconcat(main, macd, spacing=2).resolve_scale(
    x="independent", y="independent"
).properties(
    padding=0, background="#000000"
).configure_view(
    stroke="#ffffff", strokeWidth=1
).configure_axis(
    labelColor="#ffffff", domainColor="#ffffff", tickColor="#ffffff",
    labelFont=FONT, labelFontSize=9.5, tickSize=4, labelPadding=2, grid=False
)

chart.save("out.html", embed_options={"renderer": "svg", "actions": False})
